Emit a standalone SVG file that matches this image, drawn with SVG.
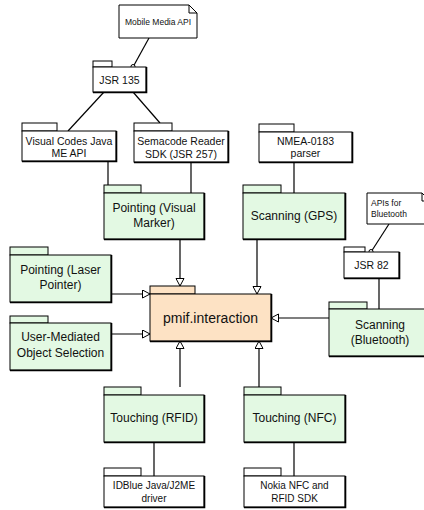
<svg xmlns="http://www.w3.org/2000/svg" width="424" height="510" viewBox="0 0 424 510">
<style>
.g{fill:#e3f9e3;stroke:#000;stroke-width:1}
.w{fill:#fff;stroke:#000;stroke-width:1}
.o{fill:#fde2c4;stroke:#000;stroke-width:1}
.sh{fill:none;stroke:#000;stroke-width:1.6}
.c{fill:none;stroke:#000;stroke-width:1.2}
.t12{font-family:"Liberation Sans",Arial,sans-serif;font-size:12px;text-anchor:middle;fill:#111}
.t10{font-family:"Liberation Sans",Arial,sans-serif;font-size:10.5px;text-anchor:middle;fill:#111}
.t9{font-family:"Liberation Sans",Arial,sans-serif;font-size:8.5px;fill:#111}
.t14{font-family:"Liberation Sans",Arial,sans-serif;font-size:14px;text-anchor:middle;fill:#111}
</style>
<defs>
<marker id="tri" markerWidth="10" markerHeight="10" refX="8" refY="4.5" orient="auto" markerUnits="userSpaceOnUse">
<path d="M0.5,0.5 L8,4.5 L0.5,8.5 Z" fill="#fff" stroke="#000" stroke-width="1"/>
</marker>
</defs>
<g id="connectors">
<line class="c" x1="149" y1="38" x2="133" y2="67"/>
<circle cx="133" cy="66.5" r="2" fill="#fff" stroke="#000"/>
<line class="c" x1="104" y1="92" x2="68" y2="131"/>
<line class="c" x1="133" y1="92" x2="160" y2="123"/>
<line class="c" x1="108" y1="161" x2="108" y2="185"/>
<line class="c" x1="191" y1="162" x2="191" y2="193"/>
<line class="c" x1="294" y1="162" x2="294" y2="193"/>
<line class="c" x1="180" y1="239" x2="180" y2="286" marker-end="url(#tri)"/>
<line class="c" x1="257" y1="239" x2="257" y2="294" marker-end="url(#tri)"/>
<line class="c" x1="111" y1="294" x2="150" y2="294" marker-end="url(#tri)"/>
<line class="c" x1="111" y1="334" x2="150" y2="334" marker-end="url(#tri)"/>
<line class="c" x1="329" y1="318" x2="271" y2="318" marker-end="url(#tri)"/>
<line class="c" x1="389" y1="224" x2="371" y2="252"/>
<circle cx="371" cy="251.5" r="2" fill="#fff" stroke="#000"/>
<line class="c" x1="379" y1="278" x2="379" y2="309"/>
<line class="c" x1="180" y1="387" x2="180" y2="341" marker-end="url(#tri)"/>
<line class="c" x1="259" y1="387" x2="259" y2="341" marker-end="url(#tri)"/>
<line class="c" x1="154" y1="442" x2="154" y2="476"/>
<line class="c" x1="294" y1="442" x2="294" y2="476"/>
</g>
<g id="note-mma">
<path class="w" d="M119,5 H189 L197,13 V38 H119 Z"/>
<path d="M189,5 V13 H197" fill="none" stroke="#000"/>
<text class="t9" x="158" y="25" text-anchor="middle">Mobile Media API</text>
</g>
<g id="note-apis">
<path class="w" d="M367,193 H422 L430,201 V224 H367 Z"/>
<path d="M422,193 V201 H430" fill="none" stroke="#000"/>
<text class="t9" x="371" y="206">APIs for</text>
<text class="t9" x="371" y="217">Bluetooth</text>
</g>
<g id="jsr135">
<rect class="w" x="93" y="61" width="19" height="6"/>
<rect class="w" x="93" y="67" width="53" height="25"/>
<path class="sh" d="M146.5,67 V92.5 H93"/>
<text class="t10" x="119.5" y="83.5">JSR 135</text>
</g>
<g id="visualcodes">
<rect class="w" x="22" y="123" width="35" height="8"/>
<rect class="w" x="22" y="131" width="94" height="30"/>
<path class="sh" d="M116.5,131 V161.5 H22"/>
<text class="t10" x="69" y="145">Visual Codes Java</text>
<text class="t10" x="69" y="157">ME API</text>
</g>
<g id="semacode">
<rect class="w" x="134" y="123" width="38" height="8"/>
<rect class="w" x="134" y="131" width="94" height="31"/>
<path class="sh" d="M228.5,131 V162.5 H134"/>
<text class="t10" x="181" y="145">Semacode Reader</text>
<text class="t10" x="181" y="158">SDK (JSR 257)</text>
</g>
<g id="nmea">
<rect class="w" x="259" y="124" width="35" height="8"/>
<rect class="w" x="259" y="132" width="93" height="30"/>
<path class="sh" d="M352.5,132 V162.5 H259"/>
<text class="t10" x="305.5" y="145">NMEA-0183</text>
<text class="t10" x="305.5" y="157">parser</text>
</g>
<g id="pointing-visual">
<rect class="g" x="104" y="185" width="37" height="8"/>
<rect class="g" x="104" y="193" width="100" height="46"/>
<path class="sh" d="M204.5,193 V239.5 H104"/>
<text class="t12" x="154" y="212">Pointing (Visual</text>
<text class="t12" x="154" y="227">Marker)</text>
</g>
<g id="scanning-gps">
<rect class="g" x="243" y="185" width="38" height="8"/>
<rect class="g" x="243" y="193" width="102" height="46"/>
<path class="sh" d="M345.5,193 V239.5 H243"/>
<text class="t12" x="294" y="220">Scanning (GPS)</text>
</g>
<g id="pointing-laser">
<rect class="g" x="10" y="247" width="38" height="8"/>
<rect class="g" x="10" y="255" width="101" height="47"/>
<path class="sh" d="M111.5,255 V302.5 H10"/>
<text class="t12" x="60.5" y="274">Pointing (Laser</text>
<text class="t12" x="60.5" y="289">Pointer)</text>
</g>
<g id="user-mediated">
<rect class="g" x="10" y="316" width="38" height="7"/>
<rect class="g" x="10" y="323" width="101" height="47"/>
<path class="sh" d="M111.5,323 V370.5 H10"/>
<text class="t12" x="60.5" y="341">User-Mediated</text>
<text class="t12" x="60.5" y="357">Object Selection</text>
</g>
<g id="pmif">
<rect class="o" x="150" y="286" width="45" height="8"/>
<rect class="o" x="150" y="294" width="121" height="47"/>
<path class="sh" d="M271.5,294 V341.5 H150"/>
<text class="t14" x="210.5" y="323">pmif.interaction</text>
</g>
<g id="jsr82">
<rect class="w" x="344" y="247" width="21" height="5"/>
<rect class="w" x="344" y="252" width="55" height="26"/>
<path class="sh" d="M399.5,252 V278.5 H344"/>
<text class="t10" x="371.5" y="269">JSR 82</text>
</g>
<g id="scanning-bt">
<rect class="g" x="329" y="302" width="38" height="7"/>
<rect class="g" x="329" y="309" width="102" height="47"/>
<path class="sh" d="M431.5,309 V356.5 H329"/>
<text class="t12" x="380" y="329">Scanning</text>
<text class="t12" x="380" y="344">(Bluetooth)</text>
</g>
<g id="touching-rfid">
<rect class="g" x="104" y="387" width="37" height="8"/>
<rect class="g" x="104" y="395" width="100" height="47"/>
<path class="sh" d="M204.5,395 V442.5 H104"/>
<text class="t12" x="154" y="422">Touching (RFID)</text>
</g>
<g id="touching-nfc">
<rect class="g" x="244" y="387" width="37" height="8"/>
<rect class="g" x="244" y="395" width="101" height="47"/>
<path class="sh" d="M345.5,395 V442.5 H244"/>
<text class="t12" x="294.5" y="422">Touching (NFC)</text>
</g>
<g id="idblue">
<rect class="w" x="104" y="468" width="37" height="8"/>
<rect class="w" x="104" y="476" width="100" height="31"/>
<path class="sh" d="M204.5,476 V507.5 H104"/>
<text class="t10" x="154" y="489" style="font-size:10px">IDBlue Java/J2ME</text>
<text class="t10" x="154" y="502" style="font-size:10px">driver</text>
</g>
<g id="nokia">
<rect class="w" x="244" y="468" width="37" height="8"/>
<rect class="w" x="244" y="476" width="101" height="31"/>
<path class="sh" d="M345.5,476 V507.5 H244"/>
<text class="t10" x="294.5" y="489" style="font-size:10px">Nokia NFC and</text>
<text class="t10" x="294.5" y="502" style="font-size:10px">RFID SDK</text>
</g>
</svg>
